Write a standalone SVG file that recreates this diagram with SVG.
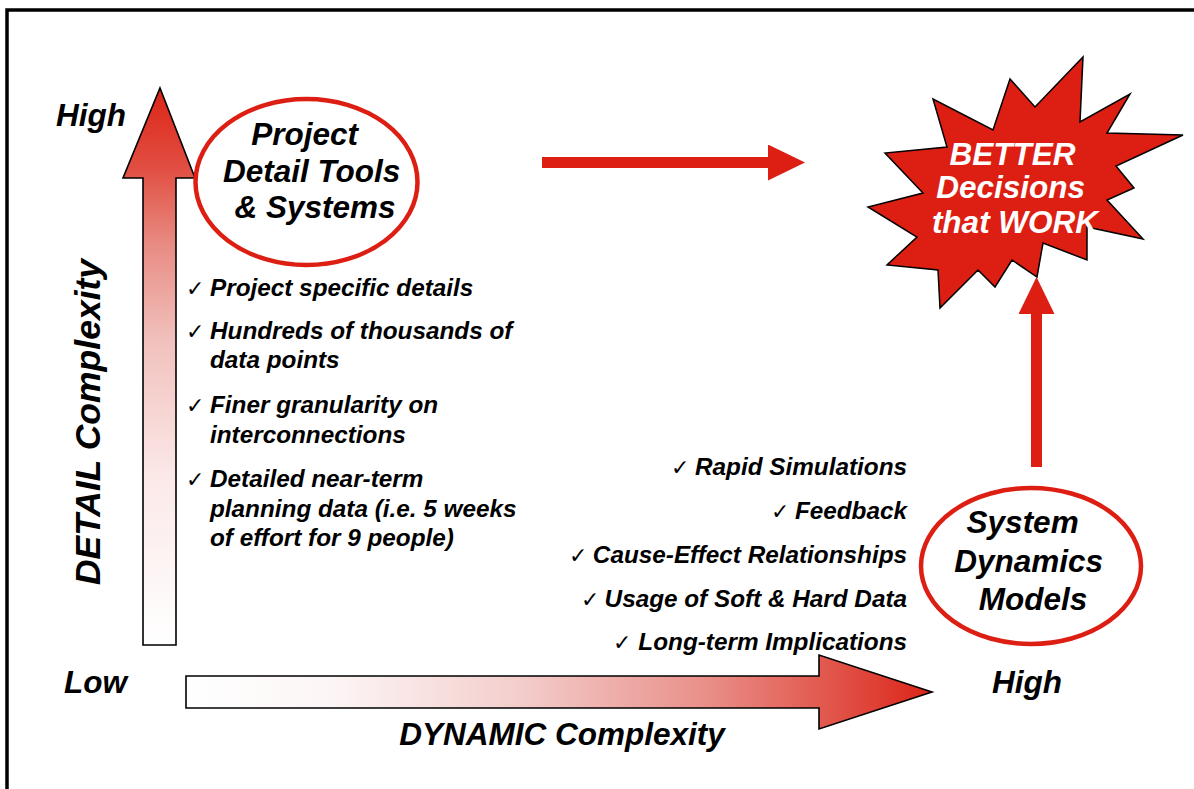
<svg xmlns="http://www.w3.org/2000/svg" width="1194" height="789" viewBox="0 0 1194 789">
  <style>
    .lbl { font-family: "Liberation Sans", Arial, sans-serif; font-weight: bold; font-style: italic; fill: #000; }
    .big { font-size: 31.5px; }
    .item { font-size: 24.3px; }
    .chk { font-family: "DejaVu Sans", sans-serif; font-size: 22px; fill: #000; }
    .ring { fill: #fff; stroke: #dd1e12; stroke-width: 4.5; }
    .axis { stroke: #000; stroke-width: 1.6; stroke-linejoin: miter; }
    .flow { stroke: #dd1e12; stroke-width: 11; fill: none; }
  </style>
  <defs>
    <linearGradient id="gradUp" x1="0" y1="1" x2="0" y2="0">
      <stop offset="0" stop-color="#ffffff"/>
      <stop offset="0.3" stop-color="#fbe9e8"/>
      <stop offset="0.55" stop-color="#f1c0bc"/>
      <stop offset="0.72" stop-color="#e88b83"/>
      <stop offset="0.86" stop-color="#e14d40"/>
      <stop offset="1" stop-color="#dc2418"/>
    </linearGradient>
    <linearGradient id="gradRight" x1="0" y1="0" x2="1" y2="0">
      <stop offset="0" stop-color="#ffffff"/>
      <stop offset="0.2" stop-color="#fcf5f5"/>
      <stop offset="0.45" stop-color="#f3cdcb"/>
      <stop offset="0.7" stop-color="#e98e88"/>
      <stop offset="0.85" stop-color="#e25a50"/>
      <stop offset="1" stop-color="#dc2418"/>
    </linearGradient>
    <marker id="head" viewBox="0 0 37 36" markerWidth="37" markerHeight="36" refX="0" refY="18" orient="auto" markerUnits="userSpaceOnUse">
      <path d="M0,0 L37,18 L0,36 Z" fill="#dd1e12"/>
    </marker>
  </defs>

  <rect x="0" y="0" width="1194" height="789" fill="#fff"/>
  <!-- frame -->
  <path d="M7,800 L7,10 L1200,10" fill="none" stroke="#000" stroke-width="3.5"/>

  <!-- axes -->
  <g id="axes">
    <polygon class="axis" fill="url(#gradUp)" points="160,88 195,178 176,178 176,645 143,645 143,178 123,178"/>
    <polygon class="axis" fill="url(#gradRight)" points="186,676 819,676 819,655 932,692 819,729 819,708 186,708"/>
    <text class="lbl big" x="56" y="126">High</text>
    <text class="lbl big" x="64" y="693">Low</text>
    <text class="lbl big" x="992" y="693">High</text>
    <text class="lbl" font-size="35.5" transform="translate(100,422) rotate(-90)" text-anchor="middle">DETAIL Complexity</text>
    <text class="lbl" font-size="31.5" x="562" y="745" text-anchor="middle">DYNAMIC Complexity</text>
  </g>

  <!-- connectors -->
  <g id="connectors">
    <line class="flow" x1="542" y1="162.5" x2="768" y2="162.5" marker-end="url(#head)"/>
    <line class="flow" x1="1036.5" y1="467" x2="1036.5" y2="314" marker-end="url(#head)"/>
  </g>

  <!-- node: project detail tools -->
  <g id="node-project-detail">
    <ellipse class="ring" cx="306.5" cy="182" rx="111" ry="83"/>
    <text class="lbl big" text-anchor="middle">
      <tspan x="309" y="145">Project</tspan>
      <tspan x="316" y="182">Detail Tools</tspan>
      <tspan x="315" y="218">&amp; Systems</tspan>
    </text>
  </g>

  <!-- node: better decisions -->
  <g id="node-better-decisions">
    <polygon fill="#dd1e12" stroke="#000" stroke-width="1.5" stroke-linejoin="miter" points="1083,57 1080,122 1130,94 1107,133 1183,135 1116,166 1134,188 1107,200 1143,239 1087,227 1087,260 1043,243 1037,277 1012,260 995,287 978,270 940,308 938,270 887,265 917,237 868,207 923,193 885,153 947,147 933,99 993,130 1010,79 1035,107"/>
    <text class="lbl big" text-anchor="middle" style="fill:#fff">
      <tspan x="1017" y="165">BETTER</tspan>
      <tspan x="1015" y="198">Decisions</tspan>
      <tspan x="1015" y="233">that WORK</tspan>
    </text>
  </g>

  <!-- node: system dynamics models -->
  <g id="node-system-dynamics">
    <ellipse class="ring" cx="1031" cy="566" rx="110" ry="78"/>
    <text class="lbl big" text-anchor="middle">
      <tspan x="1027" y="533">System</tspan>
      <tspan x="1033" y="572">Dynamics</tspan>
      <tspan x="1033" y="610">Models</tspan>
    </text>
  </g>

  <!-- detail complexity features -->
  <g id="detail-features">
    <text class="chk" x="186" y="296">✓</text>
    <text class="lbl item" x="210" y="296">Project specific details</text>
    <text class="chk" x="186" y="339">✓</text>
    <text class="lbl item" x="210" y="339">Hundreds of thousands of</text>
    <text class="lbl item" x="210" y="368">data points</text>
    <text class="chk" x="186" y="413">✓</text>
    <text class="lbl item" x="210" y="413">Finer granularity on</text>
    <text class="lbl item" x="210" y="443">interconnections</text>
    <text class="chk" x="186" y="487">✓</text>
    <text class="lbl item" x="210" y="487">Detailed near-term</text>
    <text class="lbl item" x="210" y="517">planning data (i.e. 5 weeks</text>
    <text class="lbl item" x="210" y="546">of effort for 9 people)</text>
  </g>

  <!-- dynamic complexity features -->
  <g id="dynamic-features">
    <text class="chk" x="671" y="475">✓</text>
    <text class="lbl item" x="907" y="475" text-anchor="end">Rapid Simulations</text>
    <text class="chk" x="771" y="519">✓</text>
    <text class="lbl item" x="907" y="519" text-anchor="end">Feedback</text>
    <text class="chk" x="569" y="563">✓</text>
    <text class="lbl item" x="907" y="563" text-anchor="end">Cause-Effect Relationships</text>
    <text class="chk" x="581" y="607">✓</text>
    <text class="lbl item" x="907" y="607" text-anchor="end">Usage of Soft &amp; Hard Data</text>
    <text class="chk" x="613" y="650">✓</text>
    <text class="lbl item" x="907" y="650" text-anchor="end">Long-term Implications</text>
  </g>
</svg>
